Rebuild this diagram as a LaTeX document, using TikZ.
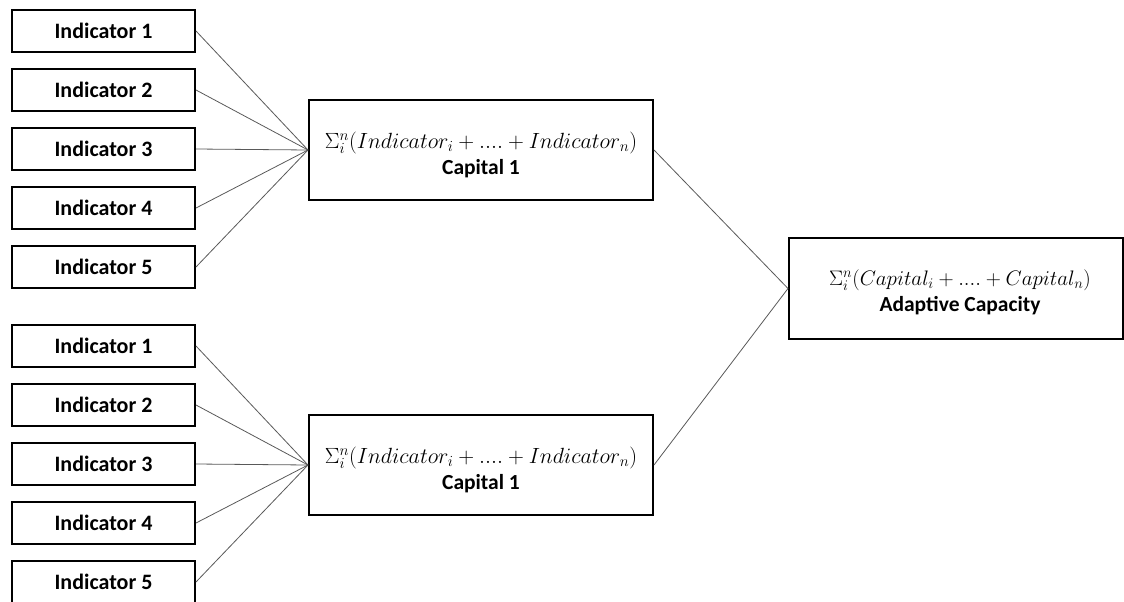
\RequirePackage{fix-cm}
\documentclass[tikz,border=0pt]{standalone}
\usepackage{fontspec}
\setmainfont{Carlito}
\newcommand{\mathsz}{\fontsize{22}{26}\selectfont}
\newcommand{\mathszb}{\fontsize{21}{26}\selectfont}
\begin{document}
\begin{tikzpicture}[x=1pt,y=-1pt,
  ind/.style={draw, line width=2pt, minimum width=183pt, minimum height=42pt, inner sep=0pt,
    font=\bfseries\fontsize{22}{26}\selectfont},
  capbox/.style={draw, line width=2pt, minimum width=344pt, minimum height=100pt, inner sep=0pt},
  captext/.style={align=center, inner sep=0pt, font=\fontsize{21.5}{26}\selectfont},
  conn/.style={draw=black!65, line width=0.8pt}]
\useasboundingbox (0,0) rectangle (1124,602);
% top group
\foreach \k in {1,...,5}{
  \node[ind] (a\k) at (103.5,{31+59*(\k-1)}) {Indicator \k};
}
% bottom group
\foreach \k in {1,...,5}{
  \node[ind] (b\k) at (103.5,{346+59*(\k-1)}) {Indicator \k};
}
\node[capbox] (c1) at (481,150) {};
\node[capbox] (c2) at (481,465) {};
\node[capbox, minimum width=334pt, minimum height=101pt] (ac) at (956,288.5) {};
\node[captext] (c1t) at (481,155) {{\mathsz$\Sigma_i^n(Indicator_i + .... + Indicator_n)$}\\[0pt]\textbf{Capital 1}};
\node[captext] (c2t) at (481,470) {{\mathsz$\Sigma_i^n(Indicator_i + .... + Indicator_n)$}\\[0pt]\textbf{Capital 1}};
\node[captext] (act) at (960,292) {{\mathszb$\Sigma_i^n(Capital_i + .... + Capital_n)$}\\[0pt]\textbf{Adaptive Capacity}};
\foreach \k in {1,...,5}{
  \draw[conn] (a\k.east) -- (c1.west);
  \draw[conn] (b\k.east) -- (c2.west);
}
\draw[conn] (c1.east) -- (ac.west);
\draw[conn] (c2.east) -- (ac.west);
\end{tikzpicture}
\end{document}
